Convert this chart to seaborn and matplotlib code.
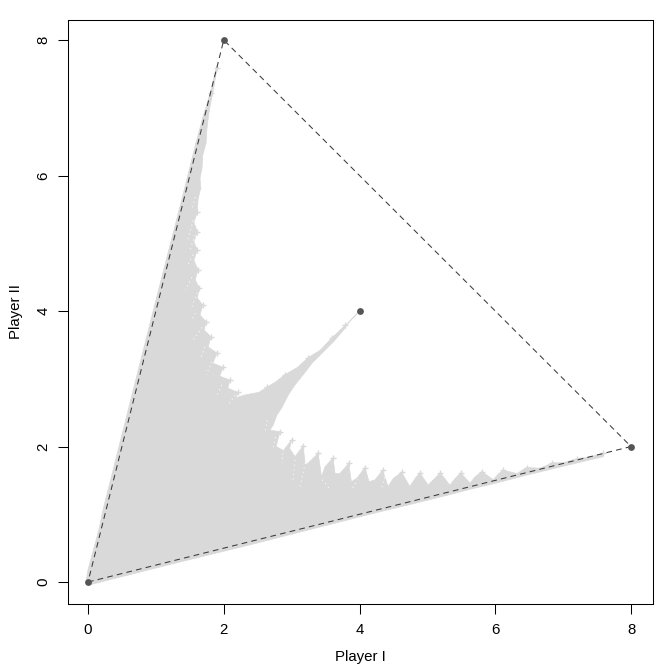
import numpy as np
import pandas as pd
import matplotlib
matplotlib.use("Agg")
import matplotlib.pyplot as plt
import seaborn as sns

# Outline of the grey cloud of payoff paths
cloud_x = [1.90,1.86,1.84,1.80,1.77,1.75,1.74,1.69,1.68,1.65,1.66,1.62,1.61,1.56,1.61,1.56,1.61,1.56,1.62,1.58,1.64,1.61,
           1.69,1.65,1.74,1.71,1.81,1.77,1.90,1.84,1.99,1.94,2.09,2.06,2.21,2.18,2.31,2.52,2.64,2.76,2.90,3.09,3.24,3.42,
           3.59,3.79,3.79,3.61,3.45,3.30,3.17,3.05,2.95,2.86,2.78,2.73,2.68,
           2.83,2.77,2.88,3.00,2.97,3.05,3.17,3.20,3.25,3.39,3.42,3.44,3.49,3.61,3.64,3.71,3.84,3.88,3.96,4.08,4.14,4.23,
           4.34,4.42,4.50,4.62,4.74,4.82,4.89,5.01,5.11,5.19,5.33,5.41,5.49,5.63,5.70,5.80,5.97,6.05,6.12,6.32,6.46,6.66,
           6.84,7.00,7.20,7.40,7.59,7.59,6.84,6.47,5.97,5.63,5.29,4.89,4.15,2.39,1.21,0.03,-0.03,0.00,0.16,0.22,0.63,1.00,
           1.38,1.59,1.69,1.80,1.89]
cloud_y = [7.59,7.34,7.22,7.04,6.85,6.67,6.48,6.30,6.11,5.96,5.82,5.64,5.46,5.31,5.17,5.02,4.90,4.75,4.61,4.46,4.34,4.19,
           4.09,3.94,3.84,3.72,3.62,3.47,3.38,3.23,3.17,3.04,2.98,2.86,2.80,2.72,2.76,2.80,2.88,2.95,3.06,3.17,3.31,3.42,
           3.60,3.79,3.75,3.54,3.38,3.23,3.06,2.91,2.76,2.58,2.46,2.32,2.24,
           2.22,2.00,1.94,2.10,1.97,1.85,2.01,1.73,1.76,1.90,1.70,1.55,1.70,1.83,1.60,1.60,1.75,1.48,1.53,1.69,1.48,1.51,
           1.65,1.41,1.53,1.62,1.41,1.53,1.61,1.43,1.53,1.61,1.43,1.53,1.61,1.46,1.55,1.63,1.51,1.60,1.65,1.60,1.69,1.68,
           1.76,1.76,1.82,1.85,1.90,1.85,1.67,1.58,1.45,1.37,1.28,1.18,1.00,0.55,0.26,-0.04,0.00,0.18,0.77,1.06,2.69,4.16,
           5.64,6.48,6.85,7.22,7.59]

# Small cross-shaped payoff marks at the spike tips
tip_x = [1.90,1.81,1.72,1.62,1.58,1.62,1.61,1.61,1.61,1.62,1.64,1.69,1.74,1.81,1.90,1.99,2.09,2.21,2.64,2.90,3.24,3.59,3.79,
         2.83,3.00,3.17,3.39,3.61,3.84,4.08,4.34,4.62,4.89,5.19,5.49,5.80,6.12,6.46,6.84,7.20,7.59]
tip_y = [7.59,7.22,6.85,6.48,6.11,5.82,5.46,5.17,4.90,4.61,4.34,4.09,3.84,3.62,3.38,3.17,2.98,2.80,2.88,3.06,3.31,3.60,3.79,
         2.22,2.10,2.01,1.90,1.83,1.75,1.69,1.65,1.62,1.61,1.61,1.61,1.63,1.65,1.69,1.76,1.82,1.90]

# Pale gaps inside the cloud: pairs of end points
gap_x = [1.58,1.53,1.55,1.47,1.58,1.50,1.55,1.47,1.53,1.44,1.61,1.53,1.58,1.53,1.68,1.55,1.72,1.65,1.83,1.74,1.97,1.89,2.17,2.06,
         2.64,2.61,2.76,2.73,2.87,2.86,3.05,3.02,3.20,3.12,3.45,3.57,3.90,3.98,4.33,4.38]
gap_y = [5.68,5.49,5.34,5.05,5.12,4.90,4.83,4.68,4.50,4.31,4.27,4.06,3.97,3.87,3.76,3.57,3.47,3.28,3.25,3.06,2.91,2.73,2.76,2.61,
         2.39,2.20,2.14,1.99,1.90,1.76,1.80,1.51,1.76,1.39,1.51,1.36,1.39,1.51,1.40,1.58]

# Convex hull and the named payoff points
hull_x = [0, 8, 2, 0]
hull_y = [0, 2, 8, 0]
point_x = [0, 8, 2, 4]
point_y = [0, 2, 8, 4]
arm_x = [3.79, 4]
arm_y = [3.78, 4]

x_ticks = [0, 2, 4, 6, 8]
y_ticks = [0, 2, 4, 6, 8]
x_label = "Player I"
y_label = "Player II"

sns.set_theme(style="white")
plt.rcParams["font.family"] = ["Liberation Sans", "DejaVu Sans"]

W, H = 672, 671
fig = plt.figure(figsize=(W / 100, H / 100), dpi=100, facecolor="white")
ax = fig.add_axes([67.5 / W, 1 - 603.5 / H, 585 / W, 584 / H])

GREY = "#d9d9d9"
ax.fill(cloud_x, cloud_y, color=GREY, linewidth=0.5, zorder=1)
sns.lineplot(x=arm_x, y=arm_y, color=GREY, linewidth=0.9, ax=ax, zorder=1, legend=False)
sns.scatterplot(x=tip_x, y=tip_y, marker="+", s=22, color=GREY, linewidth=1.0, ax=ax, zorder=1, legend=False)

gaps = pd.DataFrame({"x": gap_x, "y": gap_y, "seg": np.repeat(np.arange(len(gap_x) // 2), 2)})
sns.lineplot(data=gaps, x="x", y="y", units="seg", estimator=None, sort=False, color="white",
             linewidth=0.6, linestyle=(0, (1.5, 4)), ax=ax, zorder=2, legend=False)

sns.lineplot(x=hull_x, y=hull_y, sort=False, estimator=None, color="#3a3a3a", linewidth=0.75,
             linestyle=(0, (5.5, 4)), ax=ax, zorder=3, legend=False)
sns.scatterplot(x=point_x, y=point_y, s=24, color="#555555", linewidth=0, ax=ax, zorder=4, legend=False)

ax.set_xlim(-0.302, 8.316)
ax.set_ylim(-0.317, 8.303)
ax.set_xticks(x_ticks)
ax.set_yticks(y_ticks)
ax.set_xticklabels([str(t) for t in x_ticks], fontsize=10.8)
ax.set_yticklabels([str(t) for t in y_ticks], fontsize=10.8, rotation=90, va="center")
ax.tick_params(axis="both", direction="out", length=7.2, width=0.75, color="black", labelcolor="black",
               left=True, bottom=True)
ax.tick_params(axis="x", pad=7)
ax.tick_params(axis="y", pad=5)
ax.set_xlabel(x_label, fontsize=10.8, color="black", labelpad=9)
ax.set_ylabel(y_label, fontsize=10.8, color="black", labelpad=9.5)
for s in ax.spines.values():
    s.set_visible(True)
    s.set_color("black")
    s.set_linewidth(0.75)

fig.savefig("out.png", dpi=100, facecolor="white")
